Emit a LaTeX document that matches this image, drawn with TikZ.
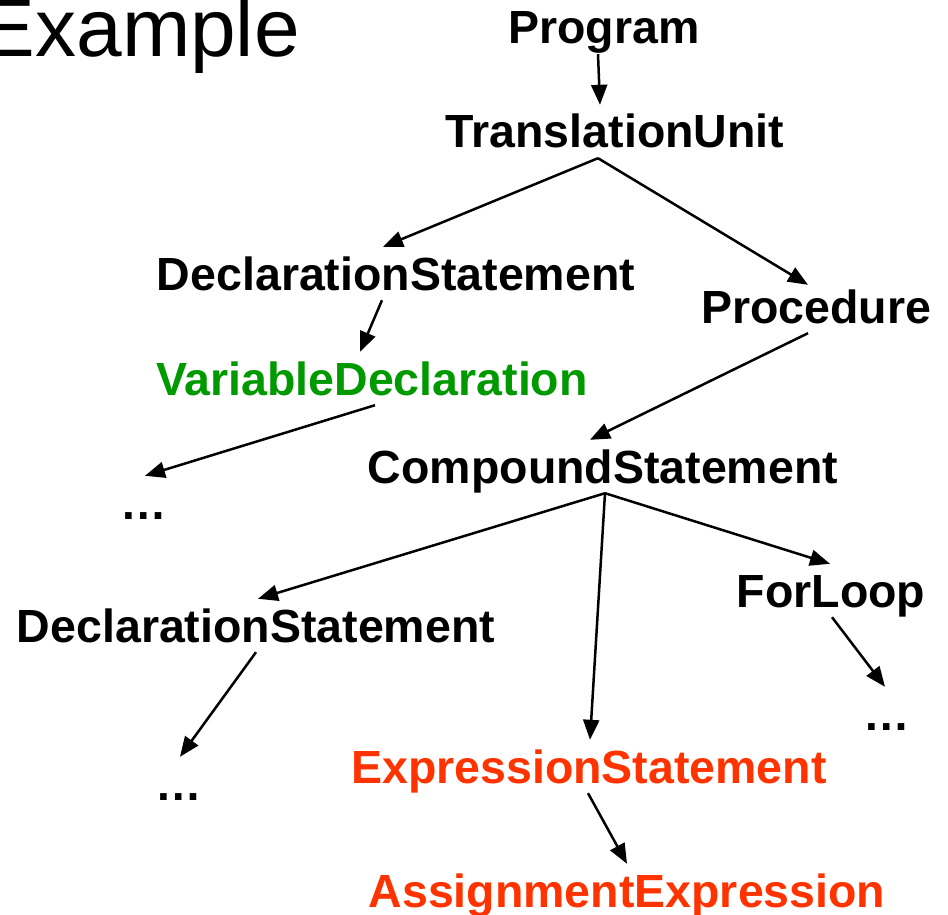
\documentclass[tikz,border=0pt]{standalone}
\usepackage{fontspec}
\setmainfont{Liberation Sans}
\usetikzlibrary{arrows.meta}
\definecolor{declgreen}{RGB}{0,153,0}
\definecolor{exprred}{RGB}{255,51,0}
\begin{document}
\begin{tikzpicture}[x=1pt, y=-1pt,
    tn/.style={anchor=base, inner xsep=0pt, inner ysep=10pt, text height=33pt, text depth=0pt,
      font=\fontsize{46.5}{50}\selectfont\bfseries},
    arr/.style={-{Triangle[length=20pt,width=16pt]}, line width=2.5pt}]
  \useasboundingbox (0,0) rectangle (948,915);
  \node[anchor=base east, inner sep=0pt, font=\fontsize{82}{86}\selectfont] (title) at (300,57) {Example};
  \node[tn] (Prog) at (604,44) {Program};
  \node[tn] (TU) at (615,148) {TranslationUnit};
  \node[tn] (DS1) at (396,290) {DeclarationStatement};
  \node[tn] (Proc) at (816,323) {Procedure};
  \node[tn, text=declgreen] (VD) at (372,395) {VariableDeclaration};
  \node[tn] (D1) at (144,519) {…};
  \node[tn] (CS) at (603,483) {CompoundStatement};
  \node[tn] (FL) at (831,607) {ForLoop};
  \node[tn] (DS2) at (256,642) {DeclarationStatement};
  \node[tn] (D3) at (887,730) {…};
  \node[tn] (D2) at (179,800) {…};
  \node[tn, text=exprred] (ES) at (589,783) {ExpressionStatement};
  \node[tn, text=exprred] (AE) at (627,907) {AssignmentExpression};
  \draw[arr] ([xshift=-6pt]Prog.south) -- ([xshift=-15pt]TU.north);
  \draw[arr] ([xshift=-17pt]TU.south) -- ([xshift=-13pt]DS1.north);
  \draw[arr] ([xshift=-17pt]TU.south) -- ([xshift=-8pt,yshift=-5pt]Proc.north);
  \draw[arr] ([xshift=-14pt]DS1.south) -- ([xshift=-12pt]VD.north);
  \draw[arr] ([xshift=-8pt]Proc.south) -- ([xshift=-13pt]CS.north);
  \draw[arr] ([xshift=3pt]VD.south) -- ([xshift=1pt]D1.north);
  \draw[arr] ([xshift=2pt]CS.south) -- ([xshift=2pt]DS2.north);
  \draw[arr] ([xshift=2pt]CS.south) -- ([xshift=1pt]ES.north);
  \draw[arr] ([xshift=2pt]CS.south) -- ([xshift=-1pt]FL.north);
  \draw[arr] ([xshift=1pt]FL.south) -- ([xshift=-2pt]D3.north);
  \draw[arr] (DS2.south) -- ([xshift=1pt]D2.north);
  \draw[arr] ([xshift=-1pt]ES.south) -- (AE.north);
\end{tikzpicture}
\end{document}
